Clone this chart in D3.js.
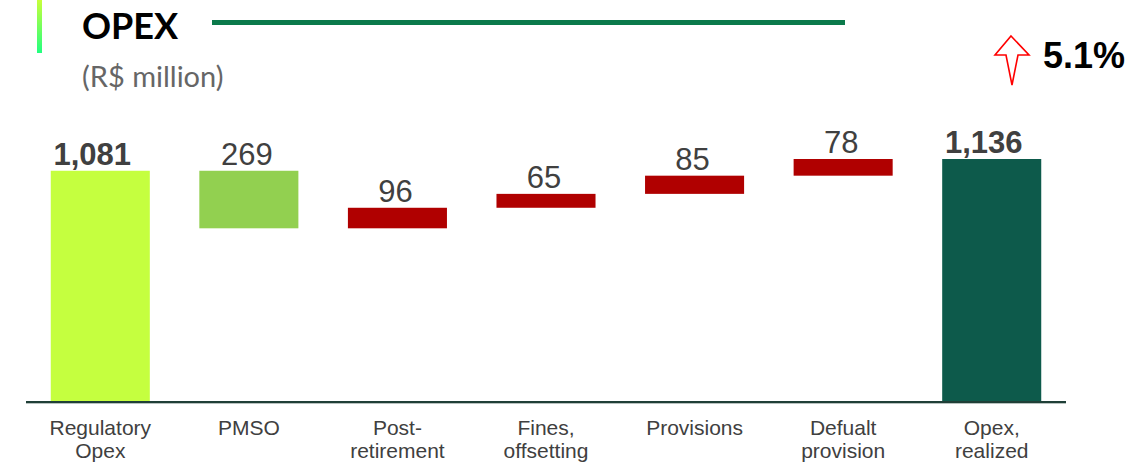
<!DOCTYPE html>
<html>
<head>
<meta charset="utf-8">
<script src="https://cdn.jsdelivr.net/npm/d3@7"></script>
<style>
  body { margin: 0; background: #fff; }
  svg { display: block; font-family: "Liberation Sans", Arial, sans-serif; }
</style>
</head>
<body>
<svg id="chart" width="1140" height="463"></svg>
<script>
const categories = [
  ['Regulatory', 'Opex'],
  ['PMSO'],
  ['Post-', 'retirement'],
  ['Fines,', 'offsetting'],
  ['Provisions'],
  ['Defualt', 'provision'],
  ['Opex,', 'realized']
];
const values = [1081, -269, 96, 65, 85, 78, 1136];
const kinds = ['total', 'down', 'up', 'up', 'up', 'up', 'total'];
const barColors = ['#c5ff3f', '#92d050', '#b00000', '#b00000', '#b00000', '#b00000', '#0d5a4b'];
const changeLabel = '5.1%';

const svg = d3.select('#chart');
const baseY = 402;

// running totals for the waterfall
let run = 0;
const bars = values.map((v, i) => {
  let y0, y1;
  if (kinds[i] === 'total') { y0 = 0; y1 = v; run = v; }
  else { y0 = run; y1 = run + v; run = y1; }
  return { i, v, lo: Math.min(y0, y1), hi: Math.max(y0, y1), kind: kinds[i] };
});

const x = d3.scaleBand()
  .domain(d3.range(categories.length))
  .range([26, 1066])
  .paddingInner(1 / 3)
  .paddingOuter(1 / 6);

const y = d3.scaleLinear().domain([0, 1136]).range([baseY, 159]);

// Header
const defs = svg.append('defs');
const grad = defs.append('linearGradient').attr('id', 'accent')
  .attr('x1', 0).attr('y1', 0).attr('x2', 0).attr('y2', 1);
grad.append('stop').attr('offset', '0%').attr('stop-color', '#c8ff3a');
grad.append('stop').attr('offset', '100%').attr('stop-color', '#22ff80');

svg.append('rect').attr('x', 37).attr('y', 0).attr('width', 5).attr('height', 53)
  .attr('fill', 'url(#accent)');

svg.append('text')
  .attr('x', 82).attr('y', 39)
  .style('font-family', 'Lato, "Open Sans", sans-serif')
  .style('font-weight', 700).style('font-size', '36px')
  .attr('fill', '#000')
  .text('OPEX');

svg.append('rect').attr('x', 212).attr('y', 20).attr('width', 633).attr('height', 5)
  .attr('fill', '#0b7a4b');

svg.append('text')
  .attr('x', 82).attr('y', 87)
  .style('font-family', 'Lato, "Open Sans", sans-serif')
  .style('font-size', '29px')
  .attr('fill', '#666')
  .text('(R$ million)');

// change indicator arrow
svg.append('path')
  .attr('d', 'M1011,36 L1029,55 L1018,55 L1012,85 L1006,55 L995,55 Z')
  .attr('fill', 'none').attr('stroke', '#ff0000').attr('stroke-width', 1.6)
  .attr('stroke-linejoin', 'miter');

svg.append('text')
  .attr('x', 1043).attr('y', 68)
  .style('font-weight', 700).style('font-size', '36px')
  .attr('fill', '#000')
  .text(changeLabel);

// Bars
svg.append('g').selectAll('rect')
  .data(bars)
  .join('rect')
  .attr('x', d => x(d.i))
  .attr('width', x.bandwidth())
  .attr('y', d => y(d.hi))
  .attr('height', d => y(d.lo) - y(d.hi))
  .attr('fill', d => barColors[d.i]);

// Value labels (totals sit a little left of centre in the original)
const fmt = d3.format(',');
svg.append('g').selectAll('text')
  .data(bars)
  .join('text')
  .attr('x', d => x(d.i) + x.bandwidth() / 2)
  .attr('dx', d => d.kind === 'total' ? -8 : -2)
  .attr('y', d => y(d.hi) - 6)
  .attr('text-anchor', 'middle')
  .style('font-size', '31px')
  .style('font-weight', d => d.kind === 'total' ? 700 : 400)
  .attr('fill', '#404040')
  .text(d => fmt(Math.abs(d.v)));

// Axis
const axis = svg.append('g')
  .attr('transform', `translate(0,${baseY})`)
  .call(d3.axisBottom(x).tickSize(0).tickSizeOuter(0).tickFormat(''));
axis.select('.domain').remove();

svg.append('line')
  .attr('x1', 26).attr('x2', 1066).attr('y1', baseY + 1.5).attr('y2', baseY + 1.5)
  .attr('stroke', '#b8c2bf').attr('stroke-width', 1);
svg.append('line')
  .attr('x1', 26).attr('x2', 1066).attr('y1', baseY).attr('y2', baseY)
  .attr('stroke', '#1f3f37').attr('stroke-width', 2);

axis.selectAll('.tick text').remove();
axis.selectAll('.tick').each(function (d) {
  const t = d3.select(this).append('text')
    .attr('text-anchor', 'middle')
    .attr('fill', '#404040')
    .style('font-size', '21px')
    .attr('y', 33);
  categories[d].forEach((line, k) => {
    t.append('tspan').attr('x', 0).attr('dy', k === 0 ? 0 : 23).text(line);
  });
});
</script>
</body>
</html>
